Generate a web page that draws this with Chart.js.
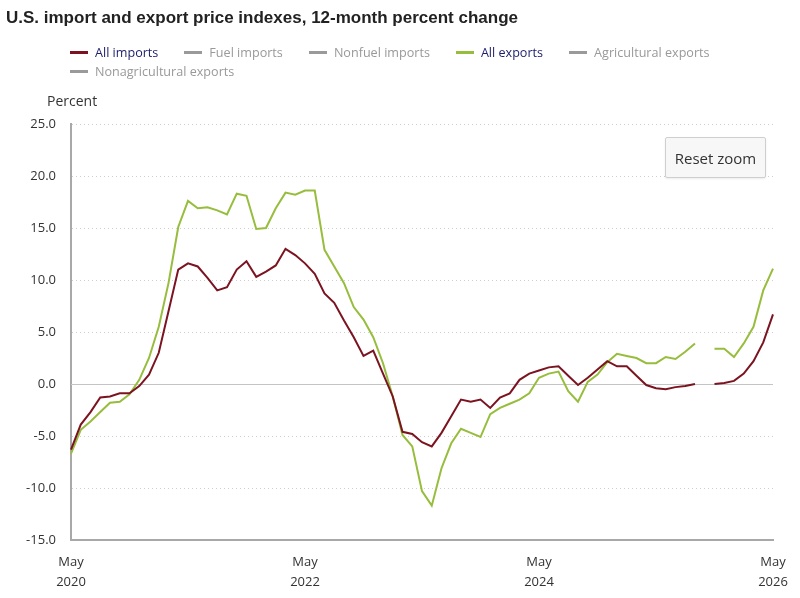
<!DOCTYPE html>
<html lang="en">
<head>
    <meta charset="UTF-8">
    <title>U.S. import and export price indexes</title>
    <script src="https://cdn.jsdelivr.net/npm/chart.js"></script>
    <style>
        body { margin: 0; background: #fff; }
        .wrap { position: relative; width: 800px; height: 598px; overflow: hidden; }
        .wrap canvas { position: absolute; left: 0; top: 0; }
        .title {
            position: absolute; left: 6px; top: 8px;
            font: bold 17px "Liberation Sans", Arial, sans-serif; color: #222;
        }
        .legend {
            position: absolute; left: 70px; top: 43px; width: 680px;
            display: flex; flex-wrap: wrap; row-gap: 1px;
            font: 12.6px "Open Sans", sans-serif;
        }
        .legend span { display: flex; align-items: center; margin-right: 26px; height: 18px; }
        .legend i { display: inline-block; width: 18px; height: 3px; margin-right: 7px; }
        .unit {
            position: absolute; left: 47px; top: 91px;
            font: 14px "Open Sans", sans-serif; color: #333;
        }
        .reset {
            position: absolute; left: 665px; top: 137px; width: 101px; height: 41px;
            box-sizing: border-box; background: #f7f7f7; border: 1px solid #cfcfcf;
            border-radius: 2px; box-shadow: 0 1px 2px rgba(0,0,0,0.08);
            font: 15px "Open Sans", sans-serif; color: #333; padding: 0;
        }
    </style>
</head>
<body>
<div class="wrap">
    <canvas id="priceChart" width="800" height="598"></canvas>
    <div class="title">U.S. import and export price indexes, 12-month percent change</div>
    <div class="legend" id="legend"></div>
    <div class="unit">Percent</div>
    <button class="reset">Reset zoom</button>
</div>

<script>
    // meses de mayo 2020 a mayo 2026 (octubre 2025 sin dato)
    const months = ['Jan','Feb','Mar','Apr','May','Jun','Jul','Aug','Sep','Oct','Nov','Dec'];
    const labels = [];
    for (let i = 0; i < 73; i++) {
        const m = (4 + i) % 12;
        const y = 2020 + Math.floor((4 + i) / 12);
        labels.push([months[m], String(y)]);
    }

    const allImports = [
        -6.3, -3.9, -2.7, -1.3, -1.2, -0.9, -0.9, -0.2, 0.9, 3.0, 7.0, 11.0,
        11.6, 11.3, 10.2, 9.0, 9.3, 11.0, 11.8, 10.3, 10.8, 11.4, 13.0, 12.4,
        11.6, 10.6, 8.7, 7.8, 6.1, 4.5, 2.7, 3.2, 1.0, -1.2, -4.6, -4.8,
        -5.6, -6.0, -4.7, -3.1, -1.5, -1.7, -1.5, -2.3, -1.3, -0.9, 0.4, 1.0,
        1.3, 1.6, 1.7, 0.8, -0.1, 0.6, 1.4, 2.2, 1.7, 1.7, 0.8, -0.1,
        -0.4, -0.5, -0.3, -0.2, 0.0, null, 0.0, 0.1, 0.3, 1.0, 2.2, 4.0,
        6.7
    ];

    const allExports = [
        -6.7, -4.4, -3.6, -2.7, -1.8, -1.7, -1.0, 0.4, 2.5, 5.5, 9.7, 15.1,
        17.6, 16.9, 17.0, 16.7, 16.3, 18.3, 18.1, 14.9, 15.0, 16.9, 18.4, 18.2,
        18.6, 18.6, 12.9, 11.3, 9.7, 7.4, 6.2, 4.5, 2.0, -1.2, -4.9, -6.0,
        -10.3, -11.7, -8.1, -5.7, -4.3, -4.7, -5.1, -2.9, -2.3, -1.9, -1.5, -0.9,
        0.6, 1.0, 1.2, -0.7, -1.7, 0.2, 0.9, 2.1, 2.9, 2.7, 2.5, 2.0,
        2.0, 2.6, 2.4, 3.1, 3.9, null, 3.4, 3.4, 2.6, 3.9, 5.5, 9.0,
        11.1
    ];

    const yTicks = [25, 20, 15, 10, 5, 0, -5, -10, -15];

    // series de la leyenda (las grises estan ocultas)
    const series = [
        { name: 'All imports', color: '#7b1420', on: true },
        { name: 'Fuel imports', color: '#9a9a9a', on: false },
        { name: 'Nonfuel imports', color: '#9a9a9a', on: false },
        { name: 'All exports', color: '#97bd3d', on: true },
        { name: 'Agricultural exports', color: '#9a9a9a', on: false },
        { name: 'Nonagricultural exports', color: '#9a9a9a', on: false }
    ];

    const legend = document.getElementById('legend');
    series.forEach(s => {
        const item = document.createElement('span');
        item.style.color = s.on ? '#1c1c6b' : '#999';
        item.innerHTML = '<i style="background:' + s.color + '"></i>' + s.name;
        legend.appendChild(item);
    });

    // linea solida en cero
    const zeroLine = {
        id: 'zeroLine',
        beforeDatasetsDraw(chart) {
            const { ctx, chartArea, scales } = chart;
            const y = Math.round(scales.y.getPixelForValue(0)) + 0.5;
            ctx.save();
            ctx.strokeStyle = '#c4c4c4';
            ctx.lineWidth = 1;
            ctx.beginPath();
            ctx.moveTo(chartArea.left, y);
            ctx.lineTo(chartArea.right, y);
            ctx.stroke();
            ctx.restore();
        }
    };

    const ctx = document.getElementById('priceChart').getContext('2d');
    const priceChart = new Chart(ctx, {
        type: 'line',
        data: {
            labels: labels,
            datasets: [
                { label: 'All imports', data: allImports, borderColor: '#7b1420', borderWidth: 2 },
                { label: 'All exports', data: allExports, borderColor: '#97bd3d', borderWidth: 2 }
            ]
        },
        options: {
            responsive: false,
            animation: false,
            spanGaps: false,
            elements: { point: { radius: 0 }, line: { tension: 0 } },
            layout: { padding: { top: 124, right: 27, left: 0, bottom: 0 } },
            plugins: { legend: { display: false }, tooltip: { enabled: false } },
            scales: {
                x: {
                    grid: { display: false },
                    border: { display: true, color: '#a8a8a8', width: 2 },
                    ticks: {
                        autoSkip: false,
                        maxRotation: 0,
                        padding: 4,
                        color: '#333',
                        font: { family: 'Open Sans', size: 13, lineHeight: 1.55 },
                        callback: function (v, i) { return i % 24 === 0 ? labels[i] : ''; }
                    },
                    afterFit: function (s) { s.height = 58; }
                },
                y: {
                    min: -15,
                    max: 25,
                    afterBuildTicks: function (s) { s.ticks = yTicks.map(v => ({ value: v })); },
                    grid: { color: '#cfcfcf', drawTicks: false },
                    border: { display: true, color: '#a8a8a8', width: 2, dash: [1, 3] },
                    ticks: {
                        padding: 15,
                        color: '#333',
                        font: { family: 'Open Sans', size: 13 },
                        callback: function (v) { return v.toFixed(1); }
                    },
                    afterFit: function (s) { s.width = 71; }
                }
            }
        },
        plugins: [zeroLine]
    });
</script>
</body>
</html>
